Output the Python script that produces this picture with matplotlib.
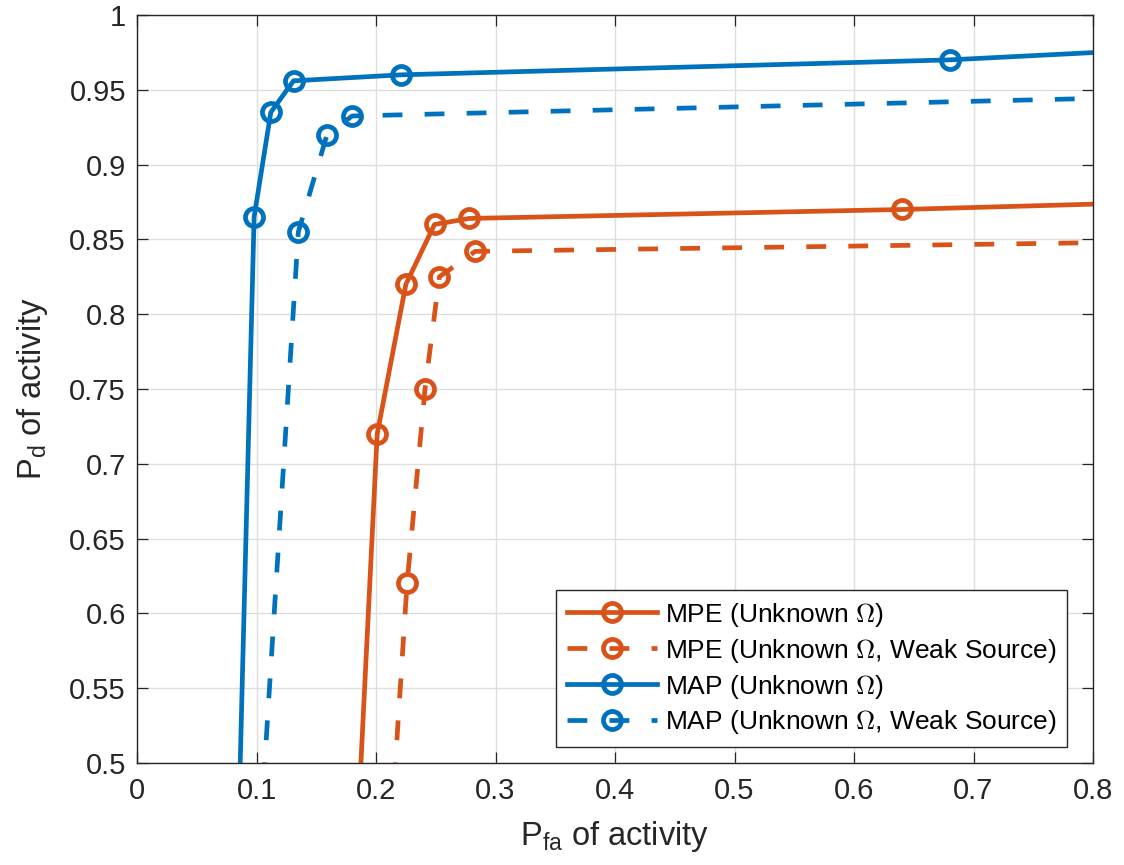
import matplotlib
matplotlib.use("Agg")
import matplotlib.pyplot as plt
from matplotlib.font_manager import FontProperties
import numpy as np

plt.rcParams["font.family"] = ["Liberation Sans", "DejaVu Sans"]
plt.rcParams["mathtext.fontset"] = "custom"
plt.rcParams["mathtext.rm"] = "Liberation Sans"

# ROC points (false alarm rate, detection rate); first/last points lie outside the view
mpe_pfa = [0.175, 0.201, 0.225, 0.249, 0.278, 0.640, 1.0]
mpe_pd = [0.30, 0.720, 0.820, 0.860, 0.864, 0.870, 0.878]

mpe_weak_pfa = [0.204, 0.226, 0.241, 0.253, 0.283, 1.0]
mpe_weak_pd = [0.35, 0.620, 0.750, 0.825, 0.842, 0.850]

map_pfa = [0.080, 0.098, 0.112, 0.131, 0.221, 0.680, 1.0]
map_pd = [0.30, 0.865, 0.935, 0.956, 0.960, 0.970, 0.983]

map_weak_pfa = [0.095, 0.135, 0.159, 0.180, 1.0]
map_weak_pd = [0.35, 0.855, 0.920, 0.9325, 0.948]

labels = [
    r"MPE (Unknown $\Omega$)",
    r"MPE (Unknown $\Omega$, Weak Source)",
    r"MAP (Unknown $\Omega$)",
    r"MAP (Unknown $\Omega$, Weak Source)",
]

orange = "#D95319"
blue = "#0072BD"
dark = "#262626"
lw = 3.4
dashed = (0, (4.2, 4.7))

fig = plt.figure(figsize=(11.24, 8.65), dpi=100)
ax = fig.add_axes([137 / 1124, 1 - 763 / 865, (1093 - 137) / 1124, (763 - 15) / 865])

style = dict(marker="o", markersize=13, markerfacecolor="none", markeredgewidth=lw, linewidth=lw)
ax.plot(mpe_pfa, mpe_pd, color=orange, linestyle="-", label=labels[0], **style)
ax.plot(mpe_weak_pfa, mpe_weak_pd, color=orange, linestyle=dashed, label=labels[1], **style)
ax.plot(map_pfa, map_pd, color=blue, linestyle="-", label=labels[2], **style)
ax.plot(map_weak_pfa, map_weak_pd, color=blue, linestyle=dashed, label=labels[3], **style)

ax.set_xlim(0, 0.8)
ax.set_ylim(0.5, 1)
xt = np.arange(0, 0.81, 0.1)
yt = np.arange(0.5, 1.001, 0.05)
ax.set_xticks(xt)
ax.set_xticklabels(["%g" % round(v, 2) for v in xt])
ax.set_yticks(yt)
ax.set_yticklabels(["%g" % round(v, 2) for v in yt])

ax.grid(True, color="#dedede", linewidth=1.0)
ax.set_axisbelow(True)
ax.tick_params(direction="in", top=True, right=True, length=8, width=0.9,
               labelsize=21, colors=dark)
ax.tick_params(axis="x", pad=10)
ax.tick_params(axis="y", pad=8)
for s in ax.spines.values():
    s.set_color(dark)
    s.set_linewidth(1.0)

ax.set_xlabel(r"P$_{\mathrm{fa}}$ of activity", fontsize=23.5, color=dark, labelpad=10)
ax.set_ylabel(r"P$_{\mathrm{d}}$ of activity", fontsize=23.5, color=dark, labelpad=14)

leg_font = FontProperties(family="Liberation Sans", size=19, math_fontfamily="cm")
leg = ax.legend(loc="lower right", bbox_to_anchor=(0.9728, 0.0214), borderaxespad=0,
                prop=leg_font, handlelength=3.4, handletextpad=0.3, labelspacing=0.3,
                borderpad=0.4, fancybox=False, framealpha=1)
leg.get_frame().set_edgecolor(dark)
leg.get_frame().set_linewidth(1.0)

fig.savefig("out.png", dpi=100)
